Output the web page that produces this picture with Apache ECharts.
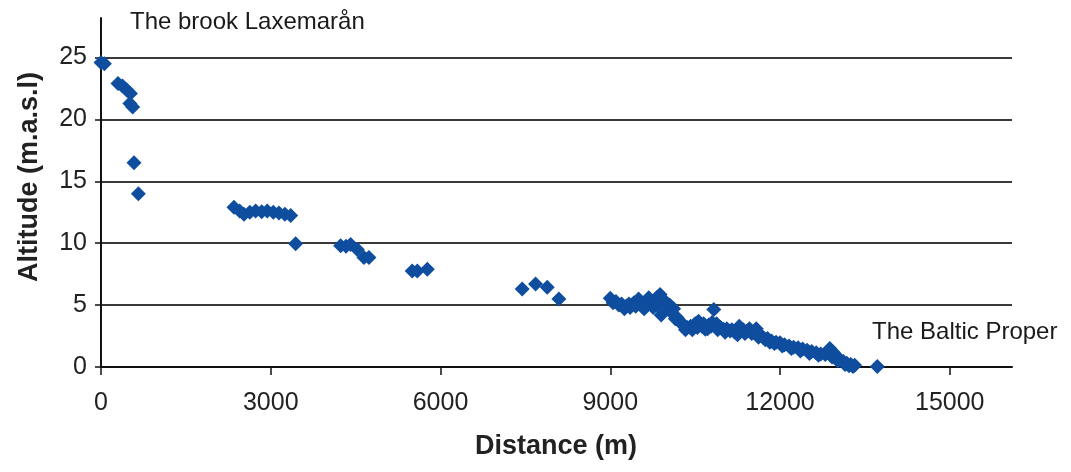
<!DOCTYPE html>
<html>
<head>
<meta charset="utf-8">
<script src="https://cdn.jsdelivr.net/npm/echarts@6/dist/echarts.min.js"></script>
<style>
html,body{margin:0;padding:0;background:#fff;}
#c{width:1071px;height:472px;}
</style>
</head>
<body>
<div id="c"></div>
<script>
// Data
const distance = [
  0, 60, 300, 380, 450, 520, 510, 560, 583, 660,
  2350, 2450, 2527, 2630, 2733, 2840, 2938, 3045, 3145, 3250, 3352, 3440,
  4235, 4330, 4412, 4530, 4647, 4735,
  5500, 5590, 5767,
  7444, 7680, 7886, 8092,
  9000, 9100, 9200, 9280, 9350, 9420, 9500, 9560, 9640, 9700, 9760, 9820, 9880, 9900, 9950,
  10000, 10050, 10120, 10180, 10220, 10300, 10360, 10420, 10500, 10560, 10620, 10680, 10740, 10800, 10830, 10880, 10950,
  11000, 11060, 11120, 11200, 11280, 11350, 11420, 11500, 11580, 11640, 11700, 11780, 11850, 11930,
  12000, 12080, 12160, 12240, 12320, 12400, 12480, 12560, 12640, 12720, 12800, 12880, 12940, 12990,
  13060, 13120, 13180, 13250, 13320, 13720,
  9050, 9150, 9250, 9330, 9450, 9600, 9680, 9780, 9850, 9920,
  10080, 10150, 10260, 10330, 10450, 10540, 10650, 10720, 10780, 10900,
  11030, 11150, 11250, 11380, 11460, 11550, 11620, 11740, 11820, 11900,
  12040, 12200, 12360, 12520, 12680, 12840, 12920, 13020, 13150, 13220, 13290
];
const altitude = [
  24.6, 24.5, 22.9, 22.7, 22.4, 22.1, 21.3, 21.0, 16.5, 14.0,
  12.9, 12.6, 12.35, 12.5, 12.6, 12.55, 12.6, 12.5, 12.45, 12.35, 12.25, 9.95,
  9.8, 9.75, 9.9, 9.5, 8.85, 8.85,
  7.75, 7.75, 7.9,
  6.3, 6.7, 6.45, 5.5,
  5.55, 5.3, 5.1, 4.9, 4.8, 5.2, 5.5, 4.9, 5.1, 5.3, 4.8, 5.6, 5.85, 4.2, 5.4,
  5.1, 5.0, 4.7, 4.0, 3.7, 3.4, 3.2, 3.3, 3.5, 3.7, 3.3, 3.05, 3.4, 3.6, 4.65, 3.5, 3.2,
  3.05, 3.1, 2.9, 2.8, 3.3, 3.0, 2.9, 2.7, 3.1, 2.6, 2.4, 2.3, 2.1, 2.0,
  1.95, 1.8, 1.7, 1.6, 1.55, 1.45, 1.35, 1.25, 1.15, 1.05, 1.0, 1.5, 1.2, 0.9,
  0.6, 0.45, 0.3, 0.2, 0.15, 0.05,
  5.2, 5.0, 4.7, 5.1, 4.9, 4.7, 5.6, 5.2, 5.0, 4.6,
  4.4, 3.9, 3.5, 3.0, 3.0, 3.2, 3.5, 3.1, 3.3, 3.0,
  2.8, 3.0, 2.6, 2.7, 3.1, 2.9, 2.4, 2.2, 2.0, 1.9,
  1.7, 1.5, 1.3, 1.1, 0.95, 1.2, 0.8, 0.5, 0.2, 0.1, 0.05
];
const xTicks = [0, 3000, 6000, 9000, 12000, 15000];
const yTicks = [0, 5, 10, 15, 20, 25];
const xTitle = 'Distance (m)';
const yTitle = 'Altitude (m.a.s.l)';
const noteTop = 'The brook Laxemarån';
const noteEnd = 'The Baltic Proper';

const points = distance.map((d, i) => [d, altitude[i]]);
const font = 'Liberation Sans, Arial, sans-serif';

const chart = echarts.init(document.getElementById('c'), null, {renderer: 'canvas'});
chart.setOption({
  backgroundColor: '#ffffff',
  animation: false,
  grid: {left: 101, right: 59, top: 18, bottom: 105, containLabel: false},
  xAxis: {
    type: 'value',
    min: 0, max: 16100, interval: 3000,
    axisLine: {show: true, onZero: false, lineStyle: {color: '#111', width: 2}},
    axisTick: {show: true, customValues: xTicks, length: 8, lineStyle: {color: '#111', width: 1.5}},
    axisLabel: {customValues: xTicks, margin: 24, color: '#222', fontSize: 25, fontFamily: font,
      formatter: v => String(v)},
    splitLine: {show: false}
  },
  yAxis: {
    type: 'value',
    min: 0, max: 28.2, interval: 5,
    axisLine: {show: true, lineStyle: {color: '#111', width: 2}},
    axisTick: {show: true, customValues: yTicks, length: 6, lineStyle: {color: '#111', width: 1.5}},
    axisLabel: {customValues: yTicks, margin: 14, color: '#222', fontSize: 25, fontFamily: font,
      formatter: v => String(v)},
    splitLine: {show: true, showMinLine: false, showMaxLine: true, lineStyle: {color: '#3a3a3a', width: 2}}
  },
  graphic: [
    {type: 'text', left: 130, top: 10, style: {text: noteTop, fontSize: 24, fontFamily: font, fill: '#1a1a1a'}},
    {type: 'text', left: 872, top: 320, style: {text: noteEnd, fontSize: 24, fontFamily: font, fill: '#1a1a1a'}},
    {type: 'text', x: 556, y: 447, style: {text: xTitle, fontSize: 27, fontWeight: 'bold', fontFamily: font, fill: '#222', align: 'center', verticalAlign: 'middle'}},
    {type: 'text', x: 30, y: 177, rotation: Math.PI / 2, style: {text: yTitle, fontSize: 27, fontWeight: 'bold', fontFamily: font, fill: '#222', align: 'center', verticalAlign: 'middle'}}
  ],
  series: [{
    type: 'scatter',
    data: points,
    symbol: 'diamond',
    symbolSize: 15,
    itemStyle: {color: '#0f4d9f', opacity: 1}
  }]
});
</script>
</body>
</html>
